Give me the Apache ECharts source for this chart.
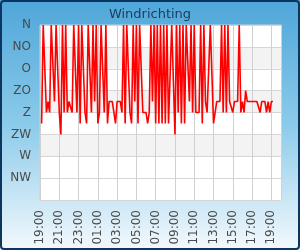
<!DOCTYPE html>
<html>
<head>
<meta charset="utf-8">
<script src="https://cdn.jsdelivr.net/npm/echarts@6/dist/echarts.min.js"></script>
<style>
html,body{margin:0;padding:0;background:#fff;}
#chart{width:300px;height:250px;}
</style>
</head>
<body>
<div id="chart"></div>
<script>
// Wind direction samples (degrees, 0 = N), one every 10 minutes starting 19:10
const stepMinutes = 10;
const firstOffsetMinutes = 10;
const directionValues = [
  202.5, 0, 0, 180, 157.5, 180, 0, 0, 157.5, 0,
  0, 180, 225, 0, 180, 0, 180, 157.5, 157.5, 180,
  0, 0, 180, 0, 202.5, 0, 0, 180, 202.5, 0,
  0, 180, 0, 157.5, 0, 202.5, 180, 0, 0, 180,
  0, 202.5, 157.5, 157.5, 157.5, 180, 202.5, 157.5, 157.5, 157.5,
  180, 0, 202.5, 0, 0, 180, 202.5, 0, 157.5, 0,
  202.5, 0, 0, 180, 180, 180, 202.5, 180, 0, 157.5,
  0, 202.5, 0, 202.5, 0, 202.5, 0, 202.5, 0, 202.5,
  202.5, 0, 0, 225, 0, 180, 0, 202.5, 0, 202.5,
  0, 0, 157.5, 0, 180, 0, 180, 180, 180, 0,
  202.5, 0, 157.5, 180, 180, 0, 0, 202.5, 202.5, 157.5,
  157.5, 157.5, 0, 180, 0, 180, 0, 157.5, 157.5, 180,
  157.5, 157.5, 157.5, 0, 180, 157.5, 180, 135, 157.5, 157.5,
  157.5, 157.5, 157.5, 157.5, 157.5, 157.5, 180, 157.5, 157.5, 157.5,
  180, 157.5, 180, 157.5, 157.5
];
const directionLabels = ['N', 'NO', 'O', 'ZO', 'Z', 'ZW', 'W', 'NW', ''];
const xTickLabels = ['19:00','21:00','23:00','01:00','03:00','05:00','07:00','09:00','11:00','13:00','15:00','17:00','19:00'];

const seriesData = directionValues.map((v, i) => [(firstOffsetMinutes + i * stepMinutes) / 60, v]);

const chart = echarts.init(document.getElementById('chart'), null, {renderer: 'canvas'});
const font = 'DejaVu Sans';
chart.setOption({
  animation: false,
  backgroundColor: {
    type: 'linear', x: 0, y: 0, x2: 0, y2: 1,
    colorStops: [
      {offset: 0, color: '#4ea6d9'},
      {offset: 0.5, color: '#8ccbea'},
      {offset: 1, color: '#f4f9fd'}
    ]
  },
  title: {
    text: 'Windrichting',
    left: 'center',
    top: 3,
    textStyle: {fontFamily: font, fontSize: 13, fontWeight: 'normal', color: '#1c3d60'}
  },
  graphic: [{
    type: 'rect',
    shape: {x: 1, y: 1, width: 298, height: 248, r: 3},
    style: {fill: 'none', stroke: '#0c365f', lineWidth: 2},
    z: 100
  }],
  grid: {
    left: 40, right: 19, top: 25, bottom: 50,
    show: true, backgroundColor: '#ffffff', borderColor: '#d0d0d0', borderWidth: 1
  },
  xAxis: {
    type: 'value',
    min: 0, max: 25, interval: 2,
    axisLine: {show: false},
    axisTick: {show: false},
    splitLine: {show: true, lineStyle: {color: '#d0d0d0', width: 1}},
    axisLabel: {
      rotate: 90, margin: 10,
      fontFamily: font, fontSize: 12, color: '#4a4a4a',
      formatter: v => xTickLabels[Math.round(v / 2)] || ''
    }
  },
  yAxis: {
    type: 'value',
    inverse: true,
    min: 0, max: 360, interval: 45,
    axisLine: {show: false},
    axisTick: {show: false},
    splitLine: {show: true, lineStyle: {color: '#d6d6d6', width: 1}},
    splitArea: {show: true, areaStyle: {color: ['#ffffff','#f3f3f3','#ffffff','#f3f3f3','#ffffff','#f3f3f3','#ffffff','#ffffff']}},
    axisLabel: {
      margin: 9,
      fontFamily: font, fontSize: 12, color: '#4a4a4a',
      formatter: v => directionLabels[Math.round(v / 45)]
    }
  },
  series: [{
    type: 'line',
    data: seriesData,
    showSymbol: false,
    lineStyle: {color: '#ff0000', width: 1.6},
    itemStyle: {color: '#ff0000'}
  }]
});
</script>
</body>
</html>
